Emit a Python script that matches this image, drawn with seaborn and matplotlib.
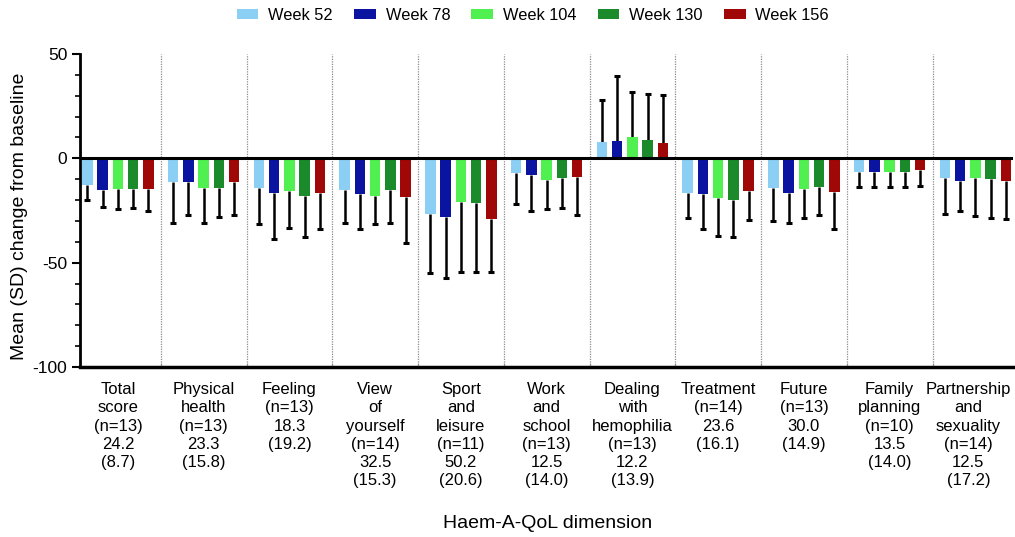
import numpy as np
import pandas as pd
import matplotlib
matplotlib.use("Agg")
import matplotlib.pyplot as plt
from matplotlib.ticker import MultipleLocator, FixedLocator
from matplotlib.transforms import ScaledTranslation
import seaborn as sns

# ---------------- data ----------------
dimensions = ["Total\nscore", "Physical\nhealth", "Feeling", "View\nof\nyourself",
              "Sport\nand\nleisure", "Work\nand\nschool", "Dealing\nwith\nhemophilia",
              "Treatment", "Future", "Family\nplanning", "Partnership\nand\nsexuality"]
n_patients = [13, 13, 13, 14, 11, 13, 13, 14, 13, 10, 14]
baseline_mean = ["24.2", "23.3", "18.3", "32.5", "50.2", "12.5", "12.2", "23.6", "30.0", "13.5", "12.5"]
baseline_sd = ["8.7", "15.8", "19.2", "15.3", "20.6", "14.0", "13.9", "16.1", "14.9", "14.0", "17.2"]

weeks = ["Week 52", "Week 78", "Week 104", "Week 130", "Week 156"]

mean_w52 = [-13.0, -11.5, -14.1, -15.1, -26.9, -6.9, 8.0, -16.7, -14.4, -6.7, -9.6]
mean_w78 = [-15.2, -11.5, -16.7, -17.3, -28.2, -8.0, 8.5, -17.1, -16.7, -6.7, -10.7]
mean_w104 = [-14.9, -14.4, -15.5, -18.1, -20.7, -10.3, 10.1, -18.8, -14.7, -6.7, -9.3]
mean_w130 = [-14.6, -14.3, -17.9, -15.4, -21.2, -9.6, 8.8, -19.9, -13.6, -6.7, -9.9]
mean_w156 = [-14.7, -11.5, -16.8, -18.6, -29.3, -9.1, 7.4, -15.9, -16.3, -5.6, -10.7]

sd_w52 = [7.2, 19.4, 17.6, 15.7, 27.9, 14.9, 20.1, 12.1, 15.6, 6.9, 17.3]
sd_w78 = [7.9, 15.6, 22.1, 16.8, 29.0, 17.3, 30.9, 16.9, 14.2, 6.9, 14.5]
sd_w104 = [9.5, 16.4, 18.0, 13.6, 33.6, 14.2, 21.6, 18.4, 14.1, 6.9, 18.3]
sd_w130 = [9.0, 13.7, 19.6, 15.5, 33.1, 14.4, 21.8, 17.9, 13.8, 6.9, 18.5]
sd_w156 = [10.6, 15.7, 17.3, 21.8, 25.0, 18.1, 22.7, 13.6, 17.7, 7.5, 18.5]

colors = ["#8ccff5", "#0a14a0", "#50f050", "#1b8a2a", "#a00808"]

# ---------------- build table ----------------
tick_labels = [f"{d}\n(n={n})\n{m}\n({s})" for d, n, m, s in
               zip(dimensions, n_patients, baseline_mean, baseline_sd)]
means = [mean_w52, mean_w78, mean_w104, mean_w130, mean_w156]
sds = [sd_w52, sd_w78, sd_w104, sd_w130, sd_w156]
rows = []
for w, mlist in zip(weeks, means):
    for lab, m in zip(tick_labels, mlist):
        rows.append({"dimension": lab, "week": w, "mean": m})
df = pd.DataFrame(rows)

# ---------------- style ----------------
sns.set_style("ticks")
plt.rcParams["font.family"] = ["Liberation Sans", "DejaVu Sans"]
plt.rcParams["axes.unicode_minus"] = False
plt.rcParams["text.color"] = "black"
plt.rcParams["xtick.color"] = "black"
plt.rcParams["ytick.color"] = "black"
plt.rcParams["axes.edgecolor"] = "black"

fig = plt.figure(figsize=(10.15, 5.37), dpi=100)
ax = fig.add_axes([0.0788, 0.3166, 0.919, 0.5829])

sns.barplot(data=df, x="dimension", y="mean", hue="week", order=tick_labels,
            hue_order=weeks, palette=colors, errorbar=None, width=0.89, gap=0.31,
            saturation=1, linewidth=0, ax=ax, zorder=2)

# one-sided SD error bars (cap only at the outer end)
for cont, sdl in zip(ax.containers, sds):
    for bar, sd in zip(cont, sdl):
        xc = bar.get_x() + bar.get_width() / 2
        h = bar.get_height()
        end = h + sd if h >= 0 else h - sd
        ax.vlines(xc, h, end, colors="black", linewidth=1.8, zorder=1)
        ax.plot([xc], [end], marker="_", markersize=4.0, markeredgewidth=2.2,
                color="black", zorder=1)

ax.set_ylim(-100, 50)
ax.set_xlim(-0.443, 10.436)
ax.yaxis.set_major_locator(FixedLocator([-100, -50, 0, 50]))
ax.yaxis.set_minor_locator(MultipleLocator(10))
ax.tick_params(axis="y", which="major", length=6, width=1.5, labelsize=12.5,
               direction="out", pad=3)
ax.tick_params(axis="y", which="minor", length=3.5, width=1.2, direction="out")
ax.tick_params(axis="x", which="major", length=0, labelsize=12, pad=11)
xt = ax.get_xticklabels()
for t in xt:
    t.set_linespacing(1.26)
xt[-1].set_transform(xt[-1].get_transform() +
                     ScaledTranslation(-7 / 100, 0, fig.dpi_scale_trans))
ax.xaxis.set_minor_locator(FixedLocator(np.arange(0.5, 10.5, 1)))
ax.tick_params(axis="x", which="minor", length=3, width=0.8, direction="in",
               color="#999999")

for i in range(10):
    ax.axvline(i + 0.5, color="#8a8a8a", linestyle=(0, (1, 1)), linewidth=0.9,
               zorder=0)
ax.axhline(0, color="black", linewidth=2.2, zorder=3)

sns.despine(ax=ax, top=True, right=True)
ax.spines["left"].set_linewidth(2.0)
ax.spines["bottom"].set_linewidth(2.5)
ax.set_xlabel("")
ax.set_ylabel("")

fig.text(0.019, 0.598, "Mean (SD) change from baseline", rotation=90,
         ha="center", va="center", fontsize=14)
fig.text(0.539, 0.026, "Haem-A-QoL dimension", ha="center", va="center",
         fontsize=14)

handles, labels = ax.get_legend_handles_labels()
ax.get_legend().remove()
fig.legend(handles, labels, loc="center", bbox_to_anchor=(0.525, 0.972),
           ncol=5, frameon=False, fontsize=11.8, handlelength=1.32,
           handleheight=0.54, columnspacing=1.3, handletextpad=0.6)

fig.savefig("out.png", dpi=100)
